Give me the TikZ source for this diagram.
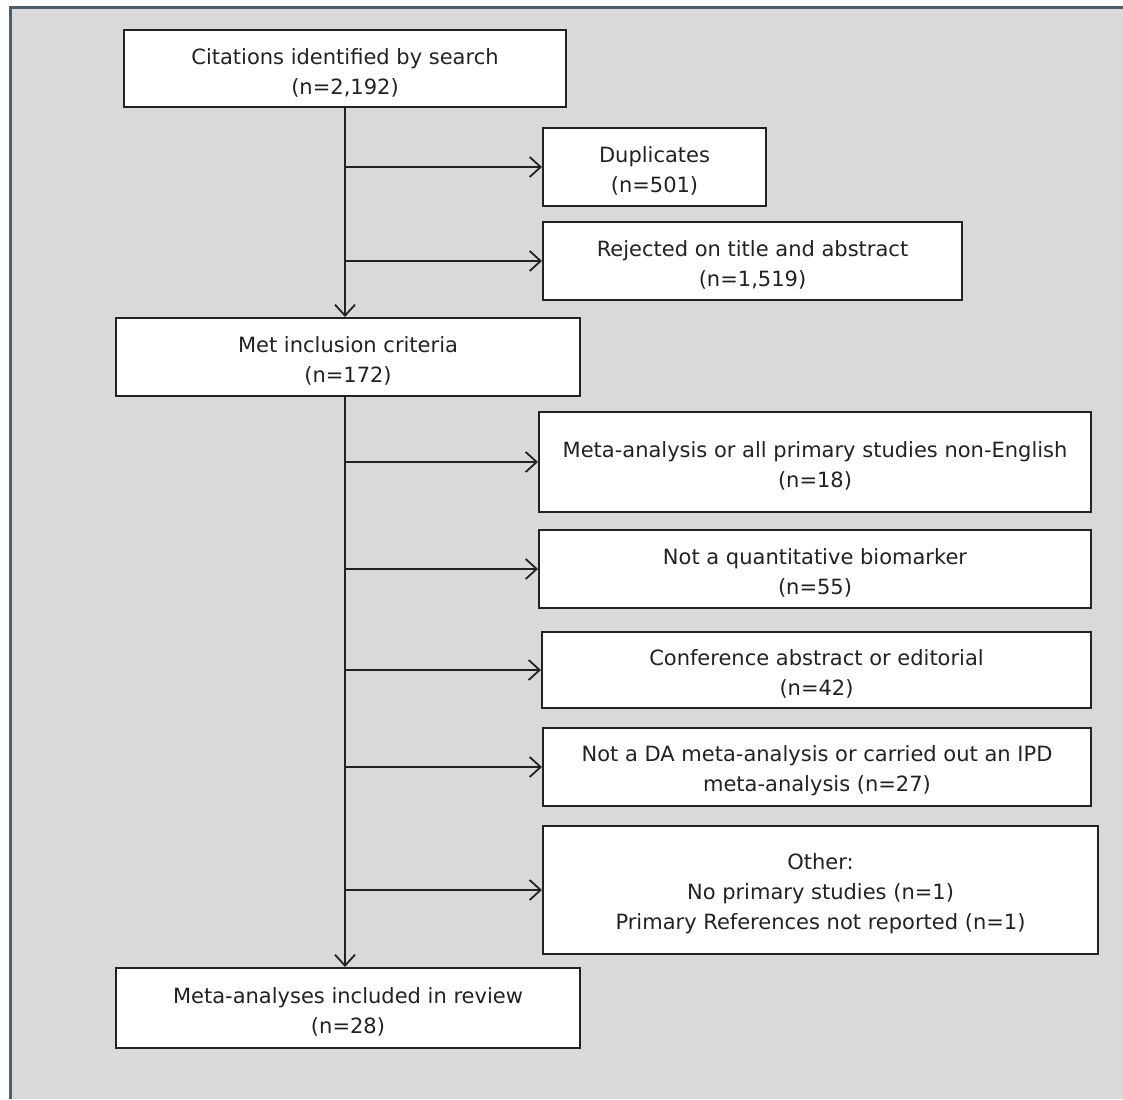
\documentclass[tikz,border=0pt]{standalone}
\usepackage{fontspec}
\setmainfont{DejaVu Sans}
\usetikzlibrary{arrows.meta,backgrounds}
\definecolor{panelgray}{HTML}{D9D9D9}
\definecolor{framegray}{HTML}{4E5D6C}
\definecolor{inkgray}{HTML}{222222}

\begin{document}
\begin{tikzpicture}[x=1pt,y=-1pt,
  box/.style={draw=inkgray,line width=2pt,fill=white,align=center,inner sep=0pt,
    text=inkgray,font=\fontsize{21}{30}\selectfont,text height=54pt},
  tallbox/.style={box,text height=84pt},
  flow/.style={draw=inkgray,line width=1.8pt,
    -{Straight Barb[length=11pt,width=20pt,line width=1.8pt]}}]
\useasboundingbox (0,0) rectangle (1123,1099);

% panel
\fill[panelgray] (9,6) rectangle (1123,1099);
\draw[framegray,line width=3pt] (10.5,1099) -- (10.5,7.5) -- (1123,7.5);

% main column
\node[box,minimum width=442pt,minimum height=77pt] (cit) at (345,68.5)
{Citations identified by search\\(n=2,192)};
\node[box,minimum width=464pt,minimum height=78pt] (met) at (348,357)
{Met inclusion criteria\\(n=172)};
\node[box,minimum width=464pt,minimum height=80pt] (incl) at (348,1008)
{Meta-analyses included in review\\(n=28)};

% exclusions, first stage
\node[box,minimum width=223pt,minimum height=78pt] (dup) at (654.5,167)
{Duplicates\\(n=501)};
\node[box,minimum width=419pt,minimum height=78pt] (rej) at (752.5,261)
{Rejected on title and abstract\\(n=1,519)};

% exclusions, second stage
\node[box,minimum width=552pt,minimum height=100pt] (nonen) at (815,462)
{Meta-analysis or all primary studies non-English\\(n=18)};
\node[box,minimum width=552pt,minimum height=78pt] (quant) at (815,569)
{Not a quantitative biomarker\\(n=55)};
\node[box,minimum width=549pt,minimum height=76pt] (conf) at (816.5,670)
{Conference abstract or editorial\\(n=42)};
\node[box,minimum width=548pt,minimum height=78pt] (da) at (817,767)
{Not a DA meta-analysis or carried out an IPD\\meta-analysis (n=27)};
\node[tallbox,minimum width=555pt,minimum height=128pt] (other) at (820.5,890)
{Other:\\No primary studies (n=1)\\Primary References not reported (n=1)};

% trunks
\draw[flow] (cit.south) -- (cit.south |- met.north);
\draw[flow] (cit.south |- met.south) -- (cit.south |- incl.north);

% branches
\foreach \b in {dup,rej,nonen,quant,conf,da,other}
  \draw[flow] (cit.south |- \b.west) -- (\b.west);

\end{tikzpicture}
\end{document}
